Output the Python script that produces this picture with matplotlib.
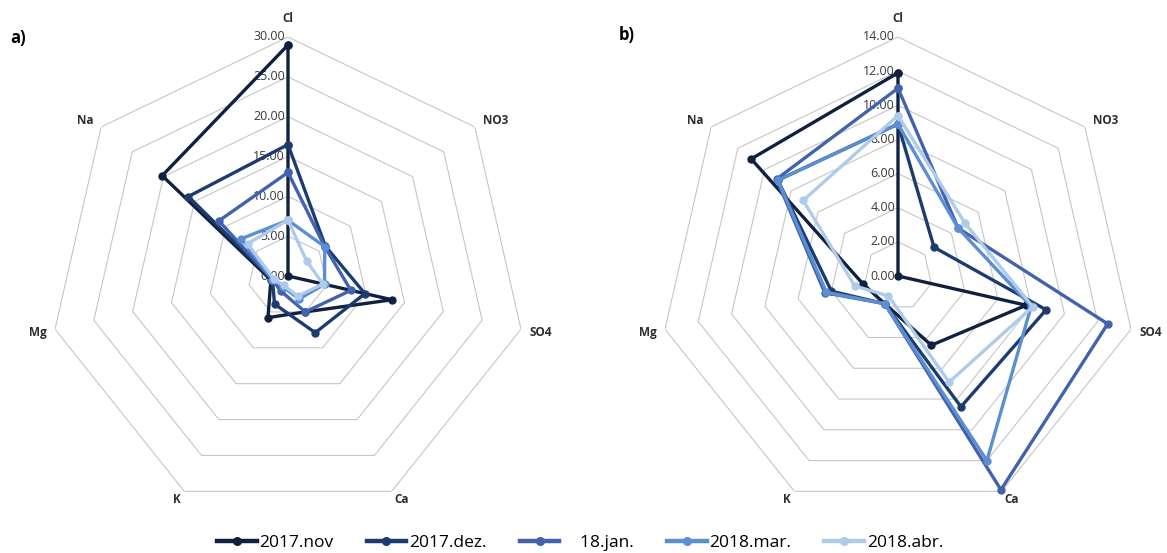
import numpy as np
import matplotlib
matplotlib.use("Agg")
import matplotlib.pyplot as plt
from matplotlib.lines import Line2D

plt.rcParams.update({
    "font.family": ["Open Sans", "DejaVu Sans"],
})

# ---------- data ----------
categories = ["Cl", "NO3", "SO4", "Ca", "K", "Mg", "Na"]
series_names = ["2017.nov", "2017.dez.", "    18.jan.", "2018.mar.", "2018.abr."]
colors = ["#10213f", "#1c3c70", "#4262ad", "#5b8ed3", "#aecbeb"]

# panel a)
a_nov = [29.0, 0.0, 13.4, 5.0, 5.8, 2.2, 20.2]
a_dez = [16.5, 6.0, 9.9, 7.9, 3.9, 2.0, 16.0]
a_jan = [13.0, 5.9, 8.1, 5.0, 2.1, 2.0, 11.1]
a_mar = [7.0, 5.9, 4.7, 3.2, 1.5, 2.0, 7.5]
a_abr = [7.0, 3.0, 4.5, 2.8, 1.3, 1.8, 6.5]
a_ticks = [0, 5, 10, 15, 20, 25, 30]

# panel b)
b_nov = [11.9, 0.0, 7.7, 4.5, 1.8, 2.1, 11.0]
b_dez = [8.9, 2.7, 8.9, 8.5, 1.8, 4.0, 9.0]
b_jan = [11.0, 4.5, 12.6, 13.9, 1.8, 4.4, 9.1]
b_mar = [8.9, 4.5, 8.0, 12.0, 1.8, 4.3, 9.0]
b_abr = [9.4, 5.0, 8.1, 6.9, 1.3, 2.6, 7.1]
b_ticks = [0, 2, 4, 6, 8, 10, 12, 14]

# label offsets in pixels (dx, dy, ha, va)
label_pos = {
    "Cl": (0, 12, "center", "bottom"),
    "NO3": (8, 6, "left", "center"),
    "SO4": (8, -3, "left", "center"),
    "Ca": (10, -8, "center", "center"),
    "K": (-7, -8, "center", "center"),
    "Mg": (-8, -3, "right", "center"),
    "Na": (-8, 6, "right", "center"),
}

GRID = "#c6c6c6"
TICK_C = "#3a3a3a"
LAB_C = "#2e2e2e"

n = len(categories)
theta = np.arange(n) * 2 * np.pi / n
theta_c = np.append(theta, theta[0])

W, H = 1167, 553
fig = plt.figure(figsize=(W / 100, H / 100), dpi=100)

R = 239


def radar(cx, cy, series, ticks, tag, tag_xy):
    ax = fig.add_axes([(cx - R) / W, (H - cy - R) / H, 2 * R / W, 2 * R / H],
                      projection="polar")
    ax.set_theta_zero_location("N")
    ax.set_theta_direction(-1)
    ax.set_ylim(0, ticks[-1])
    ax.grid(False)
    ax.set_xticks([])
    ax.set_yticks([])
    ax.spines["polar"].set_visible(False)
    ax.patch.set_alpha(0)

    # heptagon rings
    for t in ticks[1:]:
        ax.plot(theta_c, [t] * (n + 1), color=GRID, lw=0.8, zorder=1)
    # radial value labels
    for t in ticks:
        ax.annotate(f"{t:.2f}", xy=(0, t), xytext=(-3, 0),
                    textcoords="offset pixels", ha="right", va="center",
                    fontsize=9, color=TICK_C, zorder=2)
    # category labels
    for th, c in zip(theta, categories):
        dx, dy, ha, va = label_pos[c]
        ax.annotate(c, xy=(th, ticks[-1]), xytext=(dx, dy),
                    textcoords="offset pixels", ha=ha, va=va,
                    fontsize=8.5, fontweight="bold", color=LAB_C,
                    annotation_clip=False)
    # data
    for vals, col in zip(series, colors):
        v = list(vals) + [vals[0]]
        ax.plot(theta_c, v, color=col, lw=2.4, marker="o", ms=5,
                zorder=3, clip_on=False)

    fig.text(tag_xy[0] / W, 1 - tag_xy[1] / H, tag, fontsize=12,
             fontweight="bold", ha="center", va="center")
    return ax


radar(288, 276, [a_nov, a_dez, a_jan, a_mar, a_abr], a_ticks, "a)", (18, 38))
radar(898, 276, [b_nov, b_dez, b_jan, b_mar, b_abr], b_ticks, "b)", (627, 35))

handles = [Line2D([], [], color=c, lw=3.2, marker="o", ms=5.5) for c in colors]
fig.legend(handles, series_names, loc="center", ncol=5,
           bbox_to_anchor=(580 / W, 1 - 543 / H), frameon=False,
           fontsize=12.5, handlelength=2.3, handletextpad=0.15,
           columnspacing=1.9)

fig.savefig("out.png", dpi=100)
